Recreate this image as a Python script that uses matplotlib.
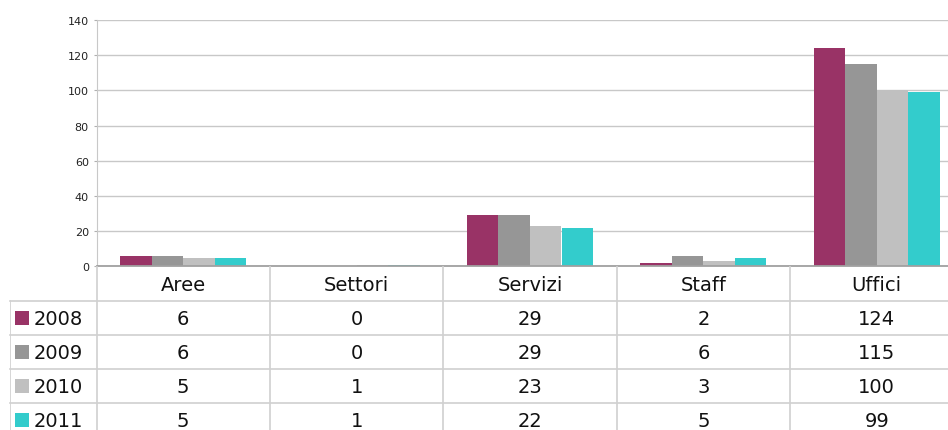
import matplotlib
matplotlib.use("Agg")
import matplotlib.pyplot as plt
from matplotlib.patches import Rectangle
import numpy as np

categories = ["Aree", "Settori", "Servizi", "Staff", "Uffici"]
years = ["2008", "2009", "2010", "2011"]
v2008 = [6, 0, 29, 2, 124]
v2009 = [6, 0, 29, 6, 115]
v2010 = [5, 1, 23, 3, 100]
v2011 = [5, 1, 22, 5, 99]
series = [v2008, v2009, v2010, v2011]
colors = ["#993366", "#969696", "#C0C0C0", "#33CCCC"]
yticks = [0, 20, 40, 60, 80, 100, 120, 140]

W, H = 948, 431
fig = plt.figure(figsize=(W / 100, H / 100), dpi=100)
plt.rcParams['font.family'] = ['DejaVu Sans']

left_px, right_px = 96.5, 96.5 + 5 * 173.4
top_px, zero_px = 21, 267.3
ax = fig.add_axes([left_px / W, (H - zero_px) / H, (right_px - left_px) / W, (zero_px - top_px) / H])
n = len(categories)
x = np.arange(n)
group = 126 / 173.4
bw = group / len(series)
for i, (vals, c) in enumerate(zip(series, colors)):
    ax.bar(x - group / 2 + bw * (i + 0.5), vals, width=bw, color=c, zorder=3, linewidth=0)
ax.set_xlim(-0.5, n - 0.5)
ax.set_ylim(0, 140)
ax.set_yticks(yticks)
ax.set_yticklabels([str(t) for t in yticks], fontsize=8, color="#222222")
ax.set_xticks([])
ax.tick_params(axis='y', length=2.5, width=0.8, color="#b0b0b0", pad=3)
ax.yaxis.grid(True, color="#c8c8c8", linewidth=1.0, zorder=0)
for s in ["top", "right"]:
    ax.spines[s].set_visible(False)
ax.spines["left"].set_color("#c8c8c8")
ax.spines["bottom"].set_color("#a0a0a0")
ax.spines["bottom"].set_linewidth(1.3)
ax.spines["bottom"].set_zorder(4)

# table
tleft_px = 10
tab = fig.add_axes([tleft_px / W, 0, (right_px - tleft_px) / W, (H - zero_px) / H])
px_per_unit = (right_px - left_px) / n
x0 = -0.5 - (left_px - tleft_px) / px_per_unit
tab.set_xlim(x0, n - 0.5)
tab.set_ylim(H, zero_px)
tab.axis("off")
line_c = "#d0d0d0"
row_h = 34
header_bottom = 302
rows_y = [header_bottom + row_h * k for k in range(len(series) + 1)]
for yb in rows_y[:-1]:
    tab.plot([x0, n - 0.5], [yb, yb], color=line_c, lw=1.2, clip_on=False)
tab.plot([x0, x0], [header_bottom, H], color=line_c, lw=1.2)
for k in range(n + 1):
    xv = -0.5 + k
    tab.plot([xv, xv], [zero_px, H], color=line_c, lw=1.2)
for i, cat in enumerate(categories):
    tab.text(i, (zero_px + header_bottom) / 2 + 1, cat, ha="center", va="center", fontsize=14, color="#111111")
for r, (yr, vals, c) in enumerate(zip(years, series, colors)):
    yc = (rows_y[r] + rows_y[r + 1]) / 2 + 1
    sq = 14
    sx = x0 + (15 - tleft_px) / px_per_unit
    tab.add_patch(Rectangle((sx, yc - sq / 2 - 1), sq / px_per_unit, sq, color=c, lw=0))
    tab.text(x0 + (34 - tleft_px) / px_per_unit, yc, yr, ha="left", va="center", fontsize=14, color="#111111")
    for i, v in enumerate(vals):
        tab.text(i, yc, str(v), ha="center", va="center", fontsize=14, color="#111111")

fig.savefig("out.png", dpi=100)
